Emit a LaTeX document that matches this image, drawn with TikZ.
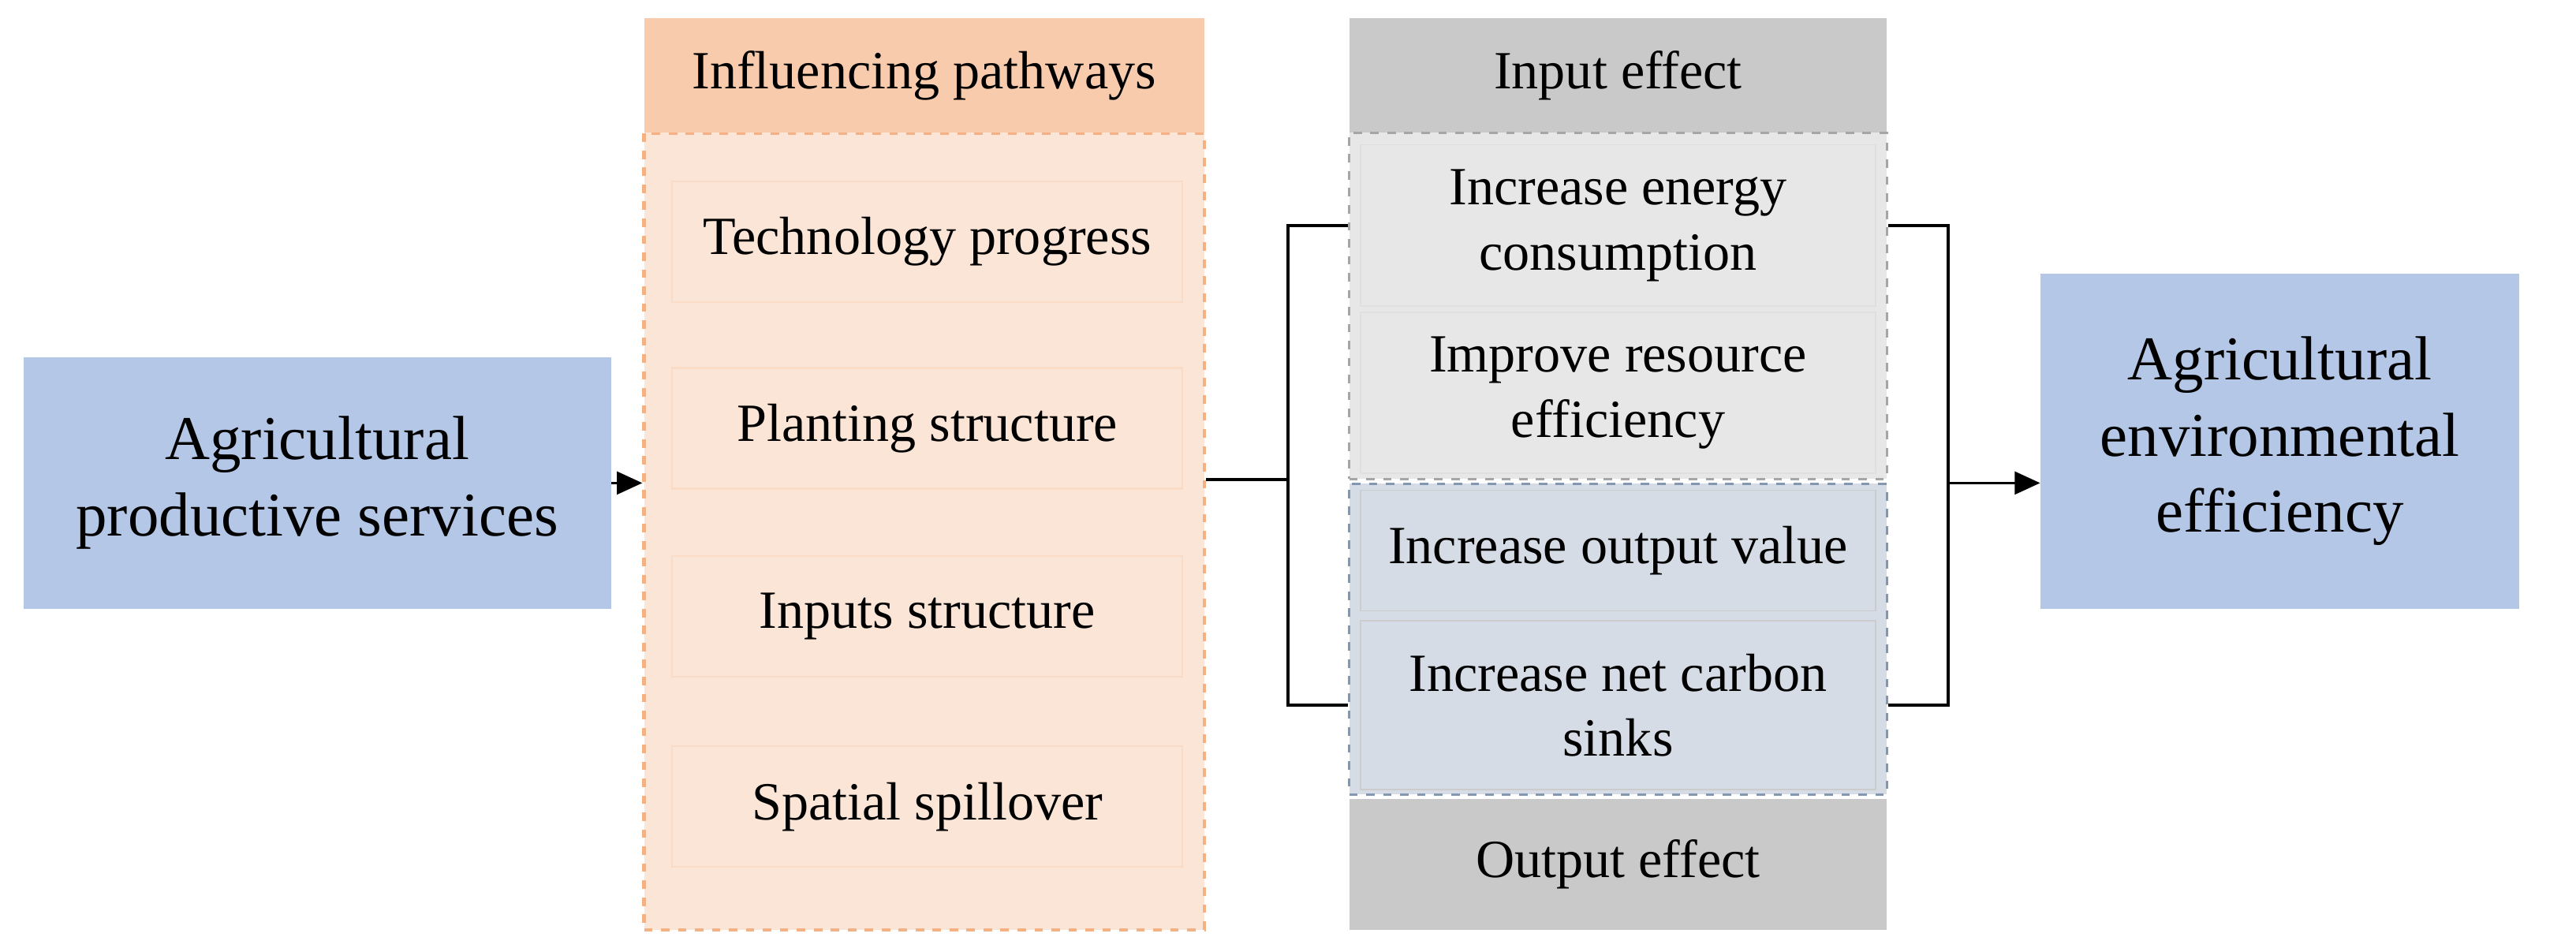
\documentclass[tikz,border=0pt]{standalone}
\usepackage{fontspec}
\setmainfont{Liberation Serif}
\usetikzlibrary{arrows.meta}
\definecolor{sideblue}{HTML}{B4C7E7}
\definecolor{orhead}{HTML}{F8CBAD}
\definecolor{orbody}{HTML}{FBE5D6}
\definecolor{orline}{HTML}{F4B183}
\definecolor{grhead}{HTML}{C9C9C9}
\definecolor{grbody}{HTML}{E7E7E7}
\definecolor{blbody}{HTML}{D6DCE5}
\definecolor{blline}{HTML}{8497B0}
\tikzset{
  box/.style={rectangle, inner sep=0pt, align=center, font=\fontsize{19}{23}\selectfont},
  side/.style={box, fill=sideblue, font=\fontsize{22}{27}\selectfont},
  way/.style={box, fill=orbody, draw=orhead!70, line width=0.6pt, minimum width=6.34cm, minimum height=1.5cm},
  link/.style={line width=1pt},
  arr/.style={link, -{Triangle[length=9pt,width=8pt]}}
}
\begin{document}
\begin{tikzpicture}[x=0.02cm, y=-0.02cm]
    \useasboundingbox (0,0) rectangle (1600,591);
    % Left input box
    \node[side, minimum width=7.3cm, minimum height=3.12cm] (aps) at (197,300) {Agricultural\\productive services};
    % Pathway column
    \node[box, fill=orbody, draw=orline, dashed, line width=1.2pt, minimum width=6.96cm, minimum height=9.9cm] (pcol) at (574,330) {};
    \node[box, fill=orhead, minimum width=6.96cm, minimum height=1.42cm] (phead) at (574,47) {Influencing pathways};
    \node[way] (tech) at (576,150) {Technology progress};
    \node[way] (plant) at (576,266) {Planting structure};
    \node[way] (inp) at (576,383) {Inputs structure};
    \node[way] (spat) at (576,501) {Spatial spillover};
    % Effect column
    \node[box, fill=grhead, minimum width=6.68cm, minimum height=1.42cm] (ihead) at (1005,47) {Input effect};
    \node[box, fill=grbody, draw=gray!70, dashed, line width=0.8pt, minimum width=6.68cm, minimum height=4.3cm] (igrp) at (1005,190) {};
    \node[box, fill=grbody, draw=gray!25, minimum width=6.4cm, minimum height=2.0cm] (energy) at (1005,140) {Increase energy\\consumption};
    \node[box, fill=grbody, draw=gray!25, minimum width=6.4cm, minimum height=2.0cm] (resrc) at (1005,244) {Improve resource\\efficiency};
    \node[box, fill=blbody, draw=blline, dashed, line width=0.8pt, minimum width=6.68cm, minimum height=3.86cm] (ogrp) at (1005,397) {};
    \node[box, fill=blbody, draw=gray!40, minimum width=6.4cm, minimum height=1.5cm] (outv) at (1005,342) {Increase output value};
    \node[box, fill=blbody, draw=gray!40, minimum width=6.4cm, minimum height=2.1cm] (sinks) at (1005,438) {Increase net carbon\\sinks};
    \node[box, fill=grhead, minimum width=6.68cm, minimum height=1.62cm] (ohead) at (1005,537) {Output effect};
    % Right output box
    \node[side, minimum width=5.94cm, minimum height=4.16cm] (aee) at (1416,274) {Agricultural\\environmental\\efficiency};
    % Connectors
    \coordinate (lj) at (800,298);
    \coordinate (rj) at (1210,300);
    \draw[arr] (aps.east) -- (aps.east -| pcol.west);
    \draw[link] (pcol.east |- lj) -- (lj);
    \draw[link] (ogrp.west |- energy) -| (lj) |- (ogrp.west |- sinks);
    \draw[link] (ogrp.east |- energy) -| (rj) |- (ogrp.east |- sinks);
    \draw[arr] (rj) -- (rj -| aee.west);
\end{tikzpicture}
\end{document}
